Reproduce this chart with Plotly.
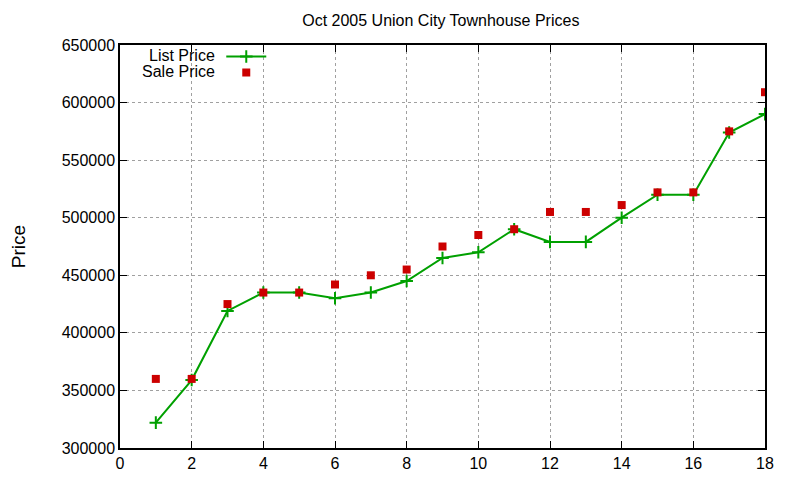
import plotly.graph_objects as go

# lot index 1..18
lots = list(range(1, 19))
list_price = [322000, 359000, 419000, 435000, 435000, 430000, 435000, 445000, 465000,
              470000, 490000, 479000, 479000, 500000, 520000, 520000, 574000, 590000]
sale_price = [360000, 360000, 425000, 435000, 435000, 442000, 450000, 455000, 475000,
              485000, 490000, 505000, 505000, 511000, 522000, 522000, 575000, 609000]

green = '#00a000'
red = '#cc0000'
font = 'Liberation Sans, Arial, sans-serif'

fig = go.Figure()
fig.add_trace(go.Scatter(x=lots, y=list_price, mode='lines+markers', name='List Price',
                         legend='legend',
                         line=dict(color=green, width=2),
                         marker=dict(symbol='cross-thin', size=9,
                                     line=dict(color=green, width=2))))
fig.add_trace(go.Scatter(x=lots, y=sale_price, mode='markers', name='Sale Price',
                         legend='legend2',
                         marker=dict(symbol='square', size=8, color=red)))

axis_style = dict(showline=True, linecolor='black', linewidth=1.5, mirror='ticks',
                  ticks='inside', ticklen=7, tickcolor='black', automargin=False,
                  showgrid=True, gridcolor='#a0a0a0', griddash='dot', gridwidth=1,
                  zeroline=False, tickfont=dict(size=16, color='black'))

# gnuplot-style key: sample on the right, text (annotation) on the left
key = dict(xanchor='left', yanchor='top', bgcolor='rgba(0,0,0,0)', itemwidth=40,
           font=dict(size=10, color='rgba(0,0,0,0)'))

# margins allow for the 8px body margin of the html page
fig.update_layout(
    width=800, height=480,
    paper_bgcolor='white', plot_bgcolor='white',
    font=dict(family=font, size=16, color='black'),
    margin=dict(l=112, r=43, t=37, b=40),
    showlegend=True,
    title=dict(text='Oct 2005 Union City Townhouse Prices', x=0.541, xanchor='center',
               y=0.975, yanchor='middle', font=dict(size=16)),
    xaxis=dict(range=[0, 18], dtick=2, **axis_style),
    yaxis=dict(range=[300000, 650000], dtick=50000, tickformat='d',
               title=dict(text='Price', standoff=47), **axis_style),
    legend=dict(x=0.157, y=1.0075, **key),
    legend2=dict(x=0.157, y=0.9678, **key),
)
fig.add_annotation(text='List Price', xref='paper', yref='paper', x=0.151, y=0.975,
                   xanchor='right', yanchor='middle', showarrow=False, height=16,
                   font=dict(size=16))
fig.add_annotation(text='Sale Price', xref='paper', yref='paper', x=0.151, y=0.9355,
                   xanchor='right', yanchor='middle', showarrow=False, height=16,
                   font=dict(size=16))

fig.write_html("out.html")
